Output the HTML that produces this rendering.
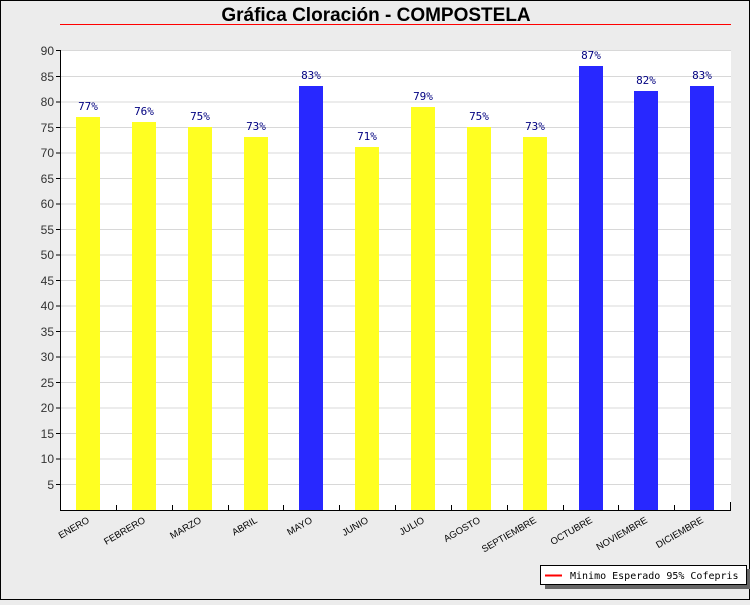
<!DOCTYPE html>
<html><head><meta charset="utf-8"><style>
html,body{margin:0;padding:0;}
body{width:750px;height:600px;overflow:hidden;background:#ececec;font-family:"Liberation Sans",sans-serif;}
</style></head><body>
<svg width="750" height="600" xmlns="http://www.w3.org/2000/svg" font-family="Liberation Sans, sans-serif">
<rect x="0.5" y="0.5" width="749" height="599" fill="#ececec" stroke="#000"/>
<text x="376" y="21" text-anchor="middle" font-size="19" font-weight="bold">Gráfica Cloración - COMPOSTELA</text>
<line x1="60" y1="24.5" x2="731" y2="24.5" stroke="#ff0000" stroke-width="1"/>
<rect x="60" y="50" width="671" height="460" fill="#fff"/>
<g stroke="#d8d8d8" stroke-width="1">
<line x1="60" x2="731" y1="484.5" y2="484.5"/><line x1="60" x2="731" y1="459" y2="459"/>
<line x1="60" x2="731" y1="433.5" y2="433.5"/><line x1="60" x2="731" y1="408" y2="408"/>
<line x1="60" x2="731" y1="382.5" y2="382.5"/><line x1="60" x2="731" y1="357" y2="357"/>
<line x1="60" x2="731" y1="331.5" y2="331.5"/><line x1="60" x2="731" y1="306" y2="306"/>
<line x1="60" x2="731" y1="280.5" y2="280.5"/><line x1="60" x2="731" y1="255" y2="255"/>
<line x1="60" x2="731" y1="229.5" y2="229.5"/><line x1="60" x2="731" y1="204" y2="204"/>
<line x1="60" x2="731" y1="178.5" y2="178.5"/><line x1="60" x2="731" y1="153" y2="153"/>
<line x1="60" x2="731" y1="127.5" y2="127.5"/><line x1="60" x2="731" y1="102" y2="102"/>
<line x1="60" x2="731" y1="76.5" y2="76.5"/><line x1="60" x2="731" y1="50.5" y2="50.5"/>
</g>
<g>
<rect x="76" y="117" width="24" height="393" fill="#ffff22"/>
<rect x="132" y="122" width="24" height="388" fill="#ffff22"/>
<rect x="188" y="127" width="24" height="383" fill="#ffff22"/>
<rect x="244" y="137" width="24" height="373" fill="#ffff22"/>
<rect x="299" y="86" width="24" height="424" fill="#2828ff"/>
<rect x="355" y="147" width="24" height="363" fill="#ffff22"/>
<rect x="411" y="107" width="24" height="403" fill="#ffff22"/>
<rect x="467" y="127" width="24" height="383" fill="#ffff22"/>
<rect x="523" y="137" width="24" height="373" fill="#ffff22"/>
<rect x="579" y="66" width="24" height="444" fill="#2828ff"/>
<rect x="634" y="91" width="24" height="419" fill="#2828ff"/>
<rect x="690" y="86" width="24" height="424" fill="#2828ff"/>
</g>
<g font-size="11" fill="#000080" text-anchor="middle" font-family="DejaVu Sans Mono, Liberation Mono, monospace">
<text x="88" y="110">77%</text><text x="144" y="115">76%</text><text x="200" y="120">75%</text>
<text x="256" y="130">73%</text><text x="311" y="79">83%</text><text x="367" y="140">71%</text>
<text x="423" y="100">79%</text><text x="479" y="120">75%</text><text x="535" y="130">73%</text>
<text x="591" y="59">87%</text><text x="646" y="84">82%</text><text x="702" y="79">83%</text>
</g>
<g stroke="#000" stroke-width="1">
<line x1="60.5" y1="50" x2="60.5" y2="511"/>
<line x1="60" y1="510.5" x2="731" y2="510.5"/>
<line x1="730.5" y1="502" x2="730.5" y2="511"/>
<line x1="56" x2="60" y1="484.5" y2="484.5"/><line x1="56" x2="60" y1="459" y2="459"/>
<line x1="56" x2="60" y1="433.5" y2="433.5"/><line x1="56" x2="60" y1="408" y2="408"/>
<line x1="56" x2="60" y1="382.5" y2="382.5"/><line x1="56" x2="60" y1="357" y2="357"/>
<line x1="56" x2="60" y1="331.5" y2="331.5"/><line x1="56" x2="60" y1="306" y2="306"/>
<line x1="56" x2="60" y1="280.5" y2="280.5"/><line x1="56" x2="60" y1="255" y2="255"/>
<line x1="56" x2="60" y1="229.5" y2="229.5"/><line x1="56" x2="60" y1="204" y2="204"/>
<line x1="56" x2="60" y1="178.5" y2="178.5"/><line x1="56" x2="60" y1="153" y2="153"/>
<line x1="56" x2="60" y1="127.5" y2="127.5"/><line x1="56" x2="60" y1="102" y2="102"/>
<line x1="56" x2="60" y1="76.5" y2="76.5"/><line x1="56" x2="60" y1="50.5" y2="50.5"/>
<line x1="116.5" x2="116.5" y1="505" y2="510"/><line x1="172.5" x2="172.5" y1="505" y2="510"/>
<line x1="228.5" x2="228.5" y1="505" y2="510"/><line x1="283.5" x2="283.5" y1="505" y2="510"/>
<line x1="339.5" x2="339.5" y1="505" y2="510"/><line x1="395.5" x2="395.5" y1="505" y2="510"/>
<line x1="451.5" x2="451.5" y1="505" y2="510"/><line x1="507.5" x2="507.5" y1="505" y2="510"/>
<line x1="563.5" x2="563.5" y1="505" y2="510"/><line x1="618.5" x2="618.5" y1="505" y2="510"/>
<line x1="674.5" x2="674.5" y1="505" y2="510"/>
</g>
<g font-size="12" fill="#333" text-anchor="end">
<text x="54" y="489">5</text><text x="54" y="463">10</text><text x="54" y="438">15</text>
<text x="54" y="412">20</text><text x="54" y="387">25</text><text x="54" y="361">30</text>
<text x="54" y="336">35</text><text x="54" y="310">40</text><text x="54" y="285">45</text>
<text x="54" y="259">50</text><text x="54" y="234">55</text><text x="54" y="208">60</text>
<text x="54" y="183">65</text><text x="54" y="157">70</text><text x="54" y="132">75</text>
<text x="54" y="106">80</text><text x="54" y="81">85</text><text x="54" y="55">90</text>
</g>
<g font-size="9.5" fill="#000" text-anchor="end">
<text transform="translate(90,522) rotate(-30)">ENERO</text>
<text transform="translate(146,522) rotate(-30)">FEBRERO</text>
<text transform="translate(202,522) rotate(-30)">MARZO</text>
<text transform="translate(258,522) rotate(-30)">ABRIL</text>
<text transform="translate(313,522) rotate(-30)">MAYO</text>
<text transform="translate(369,522) rotate(-30)">JUNIO</text>
<text transform="translate(425,522) rotate(-30)">JULIO</text>
<text transform="translate(481,522) rotate(-30)">AGOSTO</text>
<text transform="translate(537,522) rotate(-30)">SEPTIEMBRE</text>
<text transform="translate(593,522) rotate(-30)">OCTUBRE</text>
<text transform="translate(648,522) rotate(-30)">NOVIEMBRE</text>
<text transform="translate(704,522) rotate(-30)">DICIEMBRE</text>
</g>
<rect x="545" y="569" width="205" height="20" fill="#666"/>
<rect x="540.5" y="565.5" width="206" height="19" fill="#fff" stroke="#000"/>
<line x1="545" y1="575.5" x2="562" y2="575.5" stroke="#ff0000" stroke-width="2"/>
<text x="570" y="579" font-size="10" font-family="DejaVu Sans Mono, Liberation Mono, monospace">Minimo Esperado 95% Cofepris</text>
</svg>
</body></html>
